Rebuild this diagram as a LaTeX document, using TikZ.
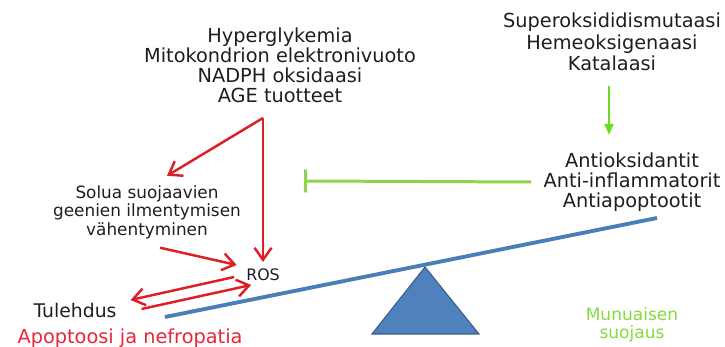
\documentclass[tikz,border=0pt]{standalone}
\usepackage{fontspec}
\setmainfont{DejaVu Sans}
\usetikzlibrary{arrows.meta}

\definecolor{txtgray}{RGB}{30,30,30}
\definecolor{arrowred}{RGB}{222,30,36}
\definecolor{textred}{RGB}{232,38,58}
\definecolor{arrowgreen}{RGB}{102,221,34}
\definecolor{inhgreen}{RGB}{146,208,80}
\definecolor{textgreen}{RGB}{136,218,60}
\definecolor{beamblue}{RGB}{74,126,187}
\definecolor{pivotblue}{RGB}{79,129,189}
\definecolor{pivotedge}{RGB}{56,93,138}

\begin{document}
\begin{tikzpicture}[x=0.02cm, y=-0.02cm,
        every node/.style={inner sep=1pt, text=txtgray, align=center},
        bigtext/.style={font=\fontsize{11}{11.4}\selectfont},
        smalltext/.style={font=\fontsize{9.6}{10.5}\selectfont},
        redarrow/.style={draw=arrowred, line width=1.4pt, -{Straight Barb[length=2.4mm,width=3.4mm]}},
        greenarrow/.style={draw=arrowgreen, line width=1.1pt, -{Triangle[length=2.2mm,width=1.8mm]}},
        inhibit/.style={draw=inhgreen, line width=1.7pt, -{Bar[width=0.46cm]}}]
    \useasboundingbox (0,0) rectangle (725,347);

    % tekstit
    \node[bigtext] (ox) at (280,65) {Hyperglykemia\\Mitokondrion elektronivuoto\\NADPH oksidaasi\\AGE tuotteet};
    \node[bigtext, font=\fontsize{11}{12.2}\selectfont] (enz) at (612,42) {Superoksididismutaasi\\Hemeoksigenaasi\\Katalaasi};
    \node[bigtext, font=\fontsize{11}{11.2}\selectfont] (antiox) at (632,182) {Antioksidantit\\Anti-inflammatorit\\Antiapoptootit};
    \node[smalltext] (solua) at (147,212) {Solua suojaavien\\geenien ilmentymisen\\vähentyminen};
    \node[font=\fontsize{9}{10}\selectfont] (ros) at (263,275) {ROS};
    \node[font=\fontsize{10.7}{12}\selectfont] (tul) at (75,310) {Tulehdus};
    \node[font=\fontsize{11}{12}\selectfont, text=textred] (apop) at (130,338) {Apoptoosi ja nefropatia};
    \node[font=\fontsize{9.7}{10.4}\selectfont, text=textgreen] (munu) at (632,325) {Munuaisen\\suojaus};

    \coordinate (fork) at (263,118);
    \coordinate (bar) at (304,181);

    % vaaka
    \draw[beamblue, line width=2.2pt] (165,317) -- (657,218);
    \filldraw[fill=pivotblue, draw=pivotedge, line width=0.6pt] (425,267) -- (372,334) -- (479,334) -- cycle;

    % nuolet
    \draw[redarrow] (fork) -- ([xshift=0.4cm,yshift=0.15cm]solua.north);
    \draw[redarrow] (fork) -- ([yshift=0.1cm]ros.north -| fork);
    \draw[redarrow] ([xshift=0.26cm,yshift=-0.14cm]solua.south) -- ([xshift=-0.15cm,yshift=0.2cm]ros.west);
    \draw[redarrow] ([xshift=-0.2cm,yshift=-0.04cm]ros.west) -- ([xshift=0.24cm,yshift=0.2cm]tul.east);
    \draw[redarrow] ([xshift=0.46cm,yshift=0.02cm]tul.east) -- ([xshift=0.14cm,yshift=-0.2cm]ros.west);
    \draw[greenarrow, shorten <=0.26cm, shorten >=0.32cm] ([xshift=-0.06cm]enz.south) -- ([xshift=-0.06cm]enz.south |- antiox.north);
    \draw[inhibit] ([xshift=-0.2cm]antiox.west) -- (bar);
\end{tikzpicture}
\end{document}
